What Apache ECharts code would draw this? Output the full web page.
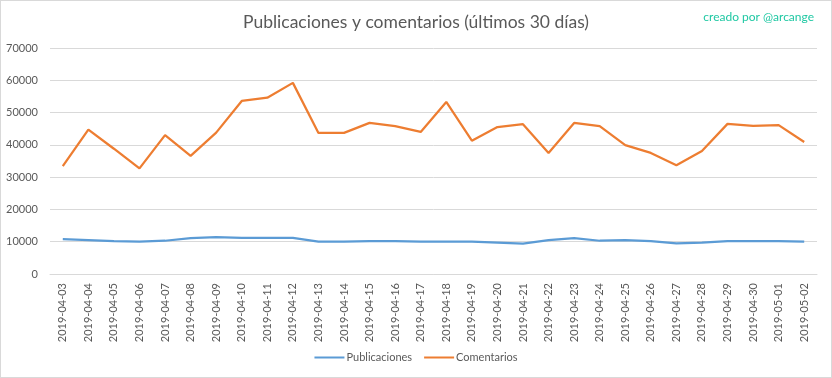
<!DOCTYPE html>
<html><head><meta charset="utf-8">
<script src="https://cdn.jsdelivr.net/npm/echarts@6/dist/echarts.min.js"></script>
<style>
html,body{margin:0;padding:0;background:#fff;}
#wrap{position:absolute;left:0;top:0;width:830px;height:376px;border:1px solid #d9d9d9;}
#c{width:832px;height:378px;position:absolute;left:0;top:0;}
</style></head>
<body><div id="wrap"></div><div id="c"></div>
<script>
const categories = ["2019-04-03","2019-04-04","2019-04-05","2019-04-06","2019-04-07","2019-04-08","2019-04-09","2019-04-10","2019-04-11","2019-04-12","2019-04-13","2019-04-14","2019-04-15","2019-04-16","2019-04-17","2019-04-18","2019-04-19","2019-04-20","2019-04-21","2019-04-22","2019-04-23","2019-04-24","2019-04-25","2019-04-26","2019-04-27","2019-04-28","2019-04-29","2019-04-30","2019-05-01","2019-05-02"];
const publicaciones = [10800,10500,10200,10000,10300,11100,11400,11200,11200,11200,10000,10000,10200,10200,10000,10000,10000,9700,9400,10500,11100,10300,10500,10200,9500,9700,10200,10200,10200,10000];
const comentarios = [33400,44700,38800,32700,43000,36600,43800,53600,54600,59200,43700,43700,46800,45800,44000,53300,41300,45500,46400,37500,46800,45800,39900,37500,33700,38100,46500,45900,46100,40900];
const seriesNames = ["Publicaciones","Comentarios"];
const titleText = "Publicaciones y comentarios (últimos 30 días)";
const creditText = "creado por @arcange";

const chart = echarts.init(document.getElementById('c'), null, {renderer:'canvas'});
const font = "Lato";
chart.setOption({
  animation:false,
  title:[
    {text:titleText,left:'center',top:8,textStyle:{fontFamily:font,fontSize:17.5,fontWeight:'normal',color:'#595959'}},
    {text:creditText,right:13,top:6,textStyle:{fontFamily:font,fontSize:12,fontWeight:'normal',color:'#1fc8a3'}}
  ],
  grid:{left:50,right:15,top:48,bottom:104},
  legend:{bottom:10,left:'center',itemWidth:30,itemHeight:2,itemGap:12,icon:'rect',
    textStyle:{fontFamily:font,fontSize:11,color:'#595959',padding:[0,0,0,-3]},data:seriesNames},
  xAxis:{type:'category',data:categories,boundaryGap:true,
    axisLine:{lineStyle:{color:'#d9d9d9'}},axisTick:{show:false},
    axisLabel:{rotate:90,interval:0,fontFamily:font,fontSize:11,color:'#595959',margin:9}},
  yAxis:{type:'value',min:0,max:70000,interval:10000,
    axisLine:{show:false},axisTick:{show:false},
    splitLine:{lineStyle:{color:'#d9d9d9'}},
    axisLabel:{fontFamily:font,fontSize:11,color:'#595959',margin:12,formatter:v=>String(v)}},
  series:[
    {name:seriesNames[0],type:'line',data:publicaciones,symbol:'none',lineStyle:{color:'#5b9bd5',width:2.25},itemStyle:{color:'#5b9bd5'}},
    {name:seriesNames[1],type:'line',data:comentarios,symbol:'none',lineStyle:{color:'#ed7d31',width:2.25},itemStyle:{color:'#ed7d31'}}
  ]
});
</script></body></html>
